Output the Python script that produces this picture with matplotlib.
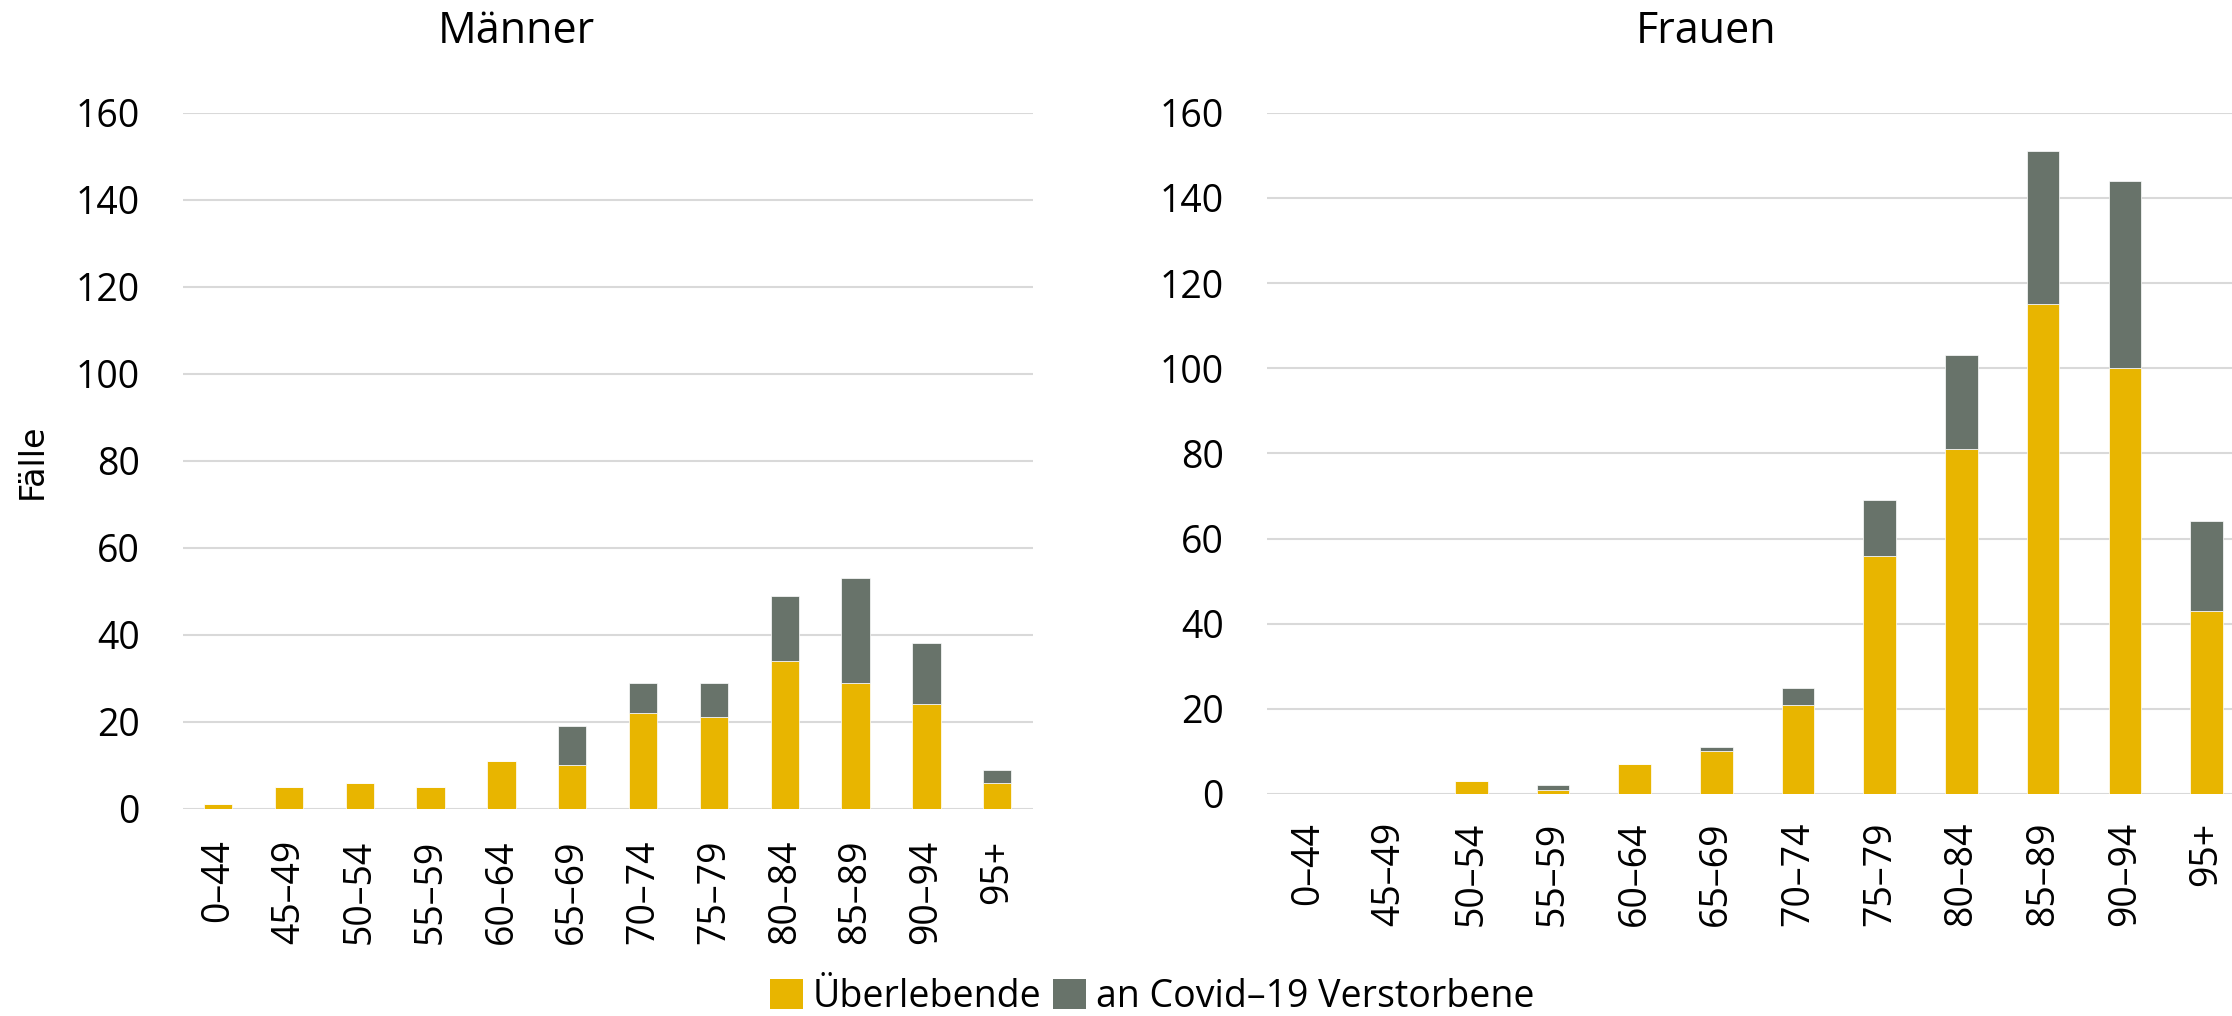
import matplotlib
matplotlib.use("Agg")
import matplotlib.pyplot as plt
import numpy as np
from matplotlib.patches import Patch

plt.rcParams['font.family'] = ['Open Sans', 'DejaVu Sans']

categories = ["0–44", "45–49", "50–54", "55–59", "60–64", "65–69",
              "70–74", "75–79", "80–84", "85–89", "90–94", "95+"]
men_survived = [1, 5, 6, 5, 11, 10, 22, 21, 34, 29, 24, 6]
men_died = [0, 0, 0, 0, 0, 9, 7, 8, 15, 24, 14, 3]
women_survived = [0, 0, 3, 1, 7, 10, 21, 56, 81, 115, 100, 43]
women_died = [0, 0, 0, 1, 0, 1, 4, 13, 22, 36, 44, 21]
yticks = [0, 20, 40, 60, 80, 100, 120, 140, 160]

YELLOW = "#E8B500"
GRAY = "#68736A"
GRID = "#D9D9D9"
FS = 27

W, H = 2232, 1016
fig = plt.figure(figsize=(W / 100, H / 100), dpi=100)

def px_axes(left, top, right, bottom):
    return fig.add_axes([left / W, 1 - bottom / H, (right - left) / W, (bottom - top) / H])

ax1 = px_axes(182.7, 112.7, 1032.7, 808.7)
ax2 = px_axes(1267, 112.7, 1267 + 12 * 81.7, 794)

def draw(ax, surv, died, pad_x):
    x = np.arange(len(categories))
    ax.bar(x, surv, width=0.4, color=YELLOW, edgecolor="white", linewidth=0.5, zorder=3)
    ax.bar(x, died, width=0.4, bottom=surv, color=GRAY, edgecolor="white", linewidth=0.5, zorder=3)
    ax.set_xlim(-0.5, len(categories) - 0.5)
    ax.set_ylim(0, 160)
    ax.set_yticks(yticks)
    ax.set_yticklabels([str(v) for v in yticks], fontsize=FS)
    ax.set_xticks(x)
    ax.set_xticklabels(categories, rotation=90, fontsize=FS, va="top", ha="center")
    ax.tick_params(axis="both", length=0)
    ax.tick_params(axis="y", pad=31)
    ax.tick_params(axis="x", pad=pad_x)
    for s in ax.spines.values():
        s.set_visible(False)
    ax.yaxis.grid(True, color=GRID, linewidth=1.5, zorder=0)
    ax.set_axisbelow(True)
    ax.patch.set_alpha(0)

draw(ax1, men_survived, men_died, 22)
draw(ax2, women_survived, women_died, 20)

fig.text(516 / W, 1 - 32 / H, "Männer", fontsize=31, ha="center", va="center")
fig.text(1706 / W, 1 - 32 / H, "Frauen", fontsize=31, ha="center", va="center")
fig.text(32 / W, 1 - 461 / H, "Fälle", fontsize=24, rotation=90, ha="center", va="center",
         family="DejaVu Sans")

handles = [Patch(facecolor=YELLOW), Patch(facecolor=GRAY)]
fig.legend(handles, ["Überlebende", "an Covid–19 Verstorbene"], loc="center",
           bbox_to_anchor=(1152 / W, 1 - 997 / H), ncol=2, frameon=False,
           fontsize=FS, handlelength=0.88, handleheight=0.88, handletextpad=0.27,
           columnspacing=0.3, borderpad=0, borderaxespad=0)

fig.savefig("out.png", dpi=100)
